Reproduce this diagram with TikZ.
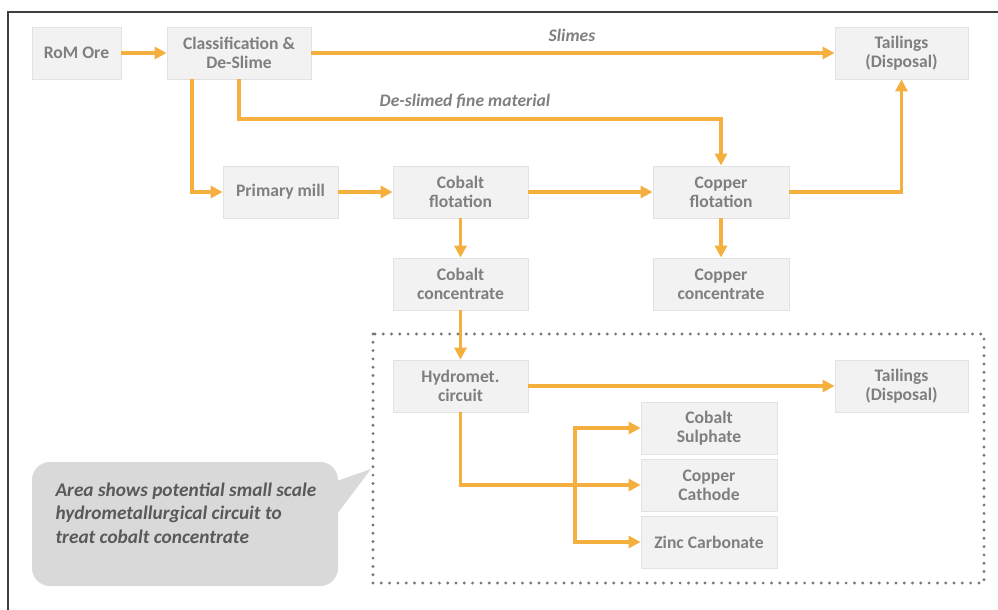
\documentclass[tikz,border=0pt]{standalone}
\usepackage{fontspec}
\setmainfont{Carlito}
\usetikzlibrary{arrows.meta}
\definecolor{boxfill}{HTML}{F2F2F2}
\definecolor{boxline}{HTML}{E2E2E2}
\definecolor{txtgray}{HTML}{7F7F7F}
\definecolor{orangeline}{HTML}{F4AF3F}
\definecolor{dotgray}{HTML}{777777}
\definecolor{calloutfill}{HTML}{D9D9D9}
\definecolor{callouttxt}{HTML}{595959}
\definecolor{framecol}{HTML}{3F3F3F}
\tikzset{
  pbox/.style={rectangle, fill=boxfill, draw=boxline, line width=0.8pt,
    minimum height=52pt, inner sep=0pt, align=center, text=txtgray,
    font=\fontsize{17.6}{19}\selectfont\bfseries},
  arr/.style={draw=orangeline, line width=3.2pt,
    -{Triangle[length=12pt,width=12pt]}},
  flowlabel/.style={text=txtgray, font=\fontsize{17.6}{19}\selectfont\bfseries\itshape},
  dotbox/.style={draw=dotgray, line width=3.2pt, line cap=round, dash pattern=on 0pt off 8.3pt},
}
\begin{document}
\begin{tikzpicture}[x=1pt,y=-1pt]
\useasboundingbox (0,0) rectangle (998,610);
% frame
\draw[framecol, line width=2pt] (8,610) -- (8,12) -- (998,12);
% dotted area
\draw[dotbox] (373,334) rectangle (984,583);
% callout
\fill[calloutfill, rounded corners=18pt] (32,462) rectangle (338,586);
\fill[calloutfill] (334,482) -- (371,469) -- (334,518) -- cycle;
\node[anchor=west, align=left, text=callouttxt,
  font=\fontsize{19.3}{23.5}\selectfont\bfseries\itshape] (note) at (52,513)
  {Area shows potential small scale\\hydrometallurgical circuit to\\treat cobalt concentrate};
% nodes
\node[pbox, minimum width=89pt] (rom) at (76.5,53) {RoM Ore};
\node[pbox, minimum width=144pt] (cls) at (239,53) {Classification \&\\De-Slime};
\node[pbox, minimum width=133pt] (tail1) at (901.5,53) {Tailings\\(Disposal)};
\node[pbox, minimum width=115pt] (mill) at (280.5,192) {Primary mill};
\node[pbox, minimum width=135pt] (cobf) at (460.5,192) {Cobalt\\flotation};
\node[pbox, minimum width=136pt] (cupf) at (721,192) {Copper\\flotation};
\node[pbox, minimum width=135pt] (cobc) at (460.5,284) {Cobalt\\concentrate};
\node[pbox, minimum width=136pt] (cupc) at (721,284) {Copper\\concentrate};
\node[pbox, minimum width=135pt] (hyd) at (460.5,386) {Hydromet.\\circuit};
\node[pbox, minimum width=133pt] (tail2) at (901.5,386) {Tailings\\(Disposal)};
\node[pbox, minimum width=136pt] (cs) at (709,428) {Cobalt\\Sulphate};
\node[pbox, minimum width=136pt] (cc) at (709,485) {Copper\\Cathode};
\node[pbox, minimum width=136pt] (zc) at (709,542) {Zinc Carbonate};
% helper coordinates
\coordinate (dsl) at (239,119);
\coordinate (lft) at (192,0);
\coordinate (bus) at (575,0);
% connectors
\draw[arr] (rom) -- (cls);
\draw[arr] (cls) -- node[flowlabel, above=6pt, xshift=-1pt] (slab) {Slimes} (tail1);
\draw[arr] (cls.south) -- (dsl) -| (cupf.north);
\node[flowlabel] (dlab) at (465,101) {De-slimed fine material};
\draw[arr] (cls.south -| lft) |- (mill.west);
\draw[arr] (mill) -- (cobf);
\draw[arr] (cobf) -- (cupf);
\draw[arr] (cupf.east) -| (tail1.south);
\draw[arr] (cobf) -- (cobc);
\draw[arr] (cupf) -- (cupc);
\draw[arr] (cobc) -- (hyd);
\draw[arr] (hyd) -- (tail2);
\draw[arr] (hyd.south) |- (cc.west);
\draw[arr] (bus |- cc.west) |- (cs.west);
\draw[arr] (bus |- cc.west) |- (zc.west);
\end{tikzpicture}
\end{document}
